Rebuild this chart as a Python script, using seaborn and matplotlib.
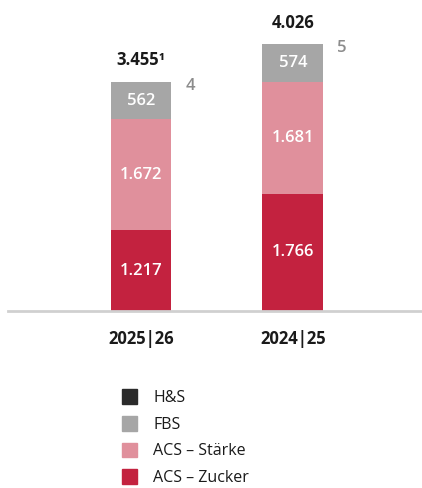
import matplotlib.pyplot as plt
import seaborn as sns
import pandas as pd
from matplotlib.patches import Patch

years = ['2025|26', '2024|25']
acs_zucker = [1217, 1766]
acs_staerke = [1672, 1681]
fbs = [562, 574]
hs = [4, 5]
totals = ['3.455¹', '4.026']

def de(v):
    return f'{v:,}'.replace(',', '.')

colors = {'H&S': '#2b2b2b', 'FBS': '#a6a6a6',
          'ACS – Stärke': '#e0909c', 'ACS – Zucker': '#c3223f'}

df = pd.DataFrame({'year': years, 'zucker': acs_zucker, 'staerke': acs_staerke,
                   'fbs': fbs, 'hs': hs})
df['c1'] = df['zucker']
df['c2'] = df['c1'] + df['staerke']
df['c3'] = df['c2'] + df['fbs']
df['c4'] = df['c3'] + df['hs']

sns.set_style('white')
plt.rcParams['font.family'] = ['Open Sans', 'DejaVu Sans']

fig = plt.figure(figsize=(4.22, 4.88), dpi=100)
ax = fig.add_axes([8 / 422, 177 / 488, 1 - 8 / 422, 301 / 488])

# overlay cumulative sums, largest first
for col, name in [('c4', 'H&S'), ('c3', 'FBS'), ('c2', 'ACS – Stärke'), ('c1', 'ACS – Zucker')]:
    sns.barplot(data=df, x='year', y=col, color=colors[name], width=0.4,
                saturation=1, ax=ax, linewidth=0)

ax.set_xlim(-0.875, 1.85)
ax.set_ylim(0, 4540)

lbl_kw = dict(ha='center', va='center', color='white', fontsize=12, fontweight='semibold')
for i in range(len(years)):
    ax.text(i, df['c1'][i] / 2, de(acs_zucker[i]), **lbl_kw)
    ax.text(i, df['c1'][i] + acs_staerke[i] / 2, de(acs_staerke[i]), **lbl_kw)
    ax.text(i, df['c2'][i] + fbs[i] / 2, de(fbs[i]), **lbl_kw)
    ax.annotate(str(hs[i]), (i + 0.2, df['c4'][i]), xytext=(10, -3),
                textcoords='offset points', ha='left', va='center',
                color='#8c8c8c', fontsize=12, fontweight='semibold')
    ax.annotate(totals[i], (i, df['c4'][i]), xytext=(0, 9),
                textcoords='offset points', ha='center', va='bottom',
                color='#1a1a1a', fontsize=12, fontweight='bold')

sns.despine(ax=ax, left=True)
ax.spines['bottom'].set_color('#d0d0d0')
ax.spines['bottom'].set_linewidth(2)
ax.set_yticks([])
ax.set_xlabel('')
ax.set_ylabel('')
ax.tick_params(axis='x', length=0, pad=14)
for lbl in ax.get_xticklabels():
    lbl.set_fontweight('bold')
    lbl.set_fontsize(12)
    lbl.set_color('#1a1a1a')

handles = [Patch(color=colors[k], label=k) for k in colors]
fig.legend(handles=handles, loc='upper left', bbox_to_anchor=(122 / 422, 1 - 389 / 488),
           frameon=False, fontsize=11.5, handlelength=0.95, handleheight=1.05,
           handletextpad=1.0, labelspacing=0.62, labelcolor='#1a1a1a',
           borderpad=0, borderaxespad=0)

fig.savefig('out.png', dpi=100)
